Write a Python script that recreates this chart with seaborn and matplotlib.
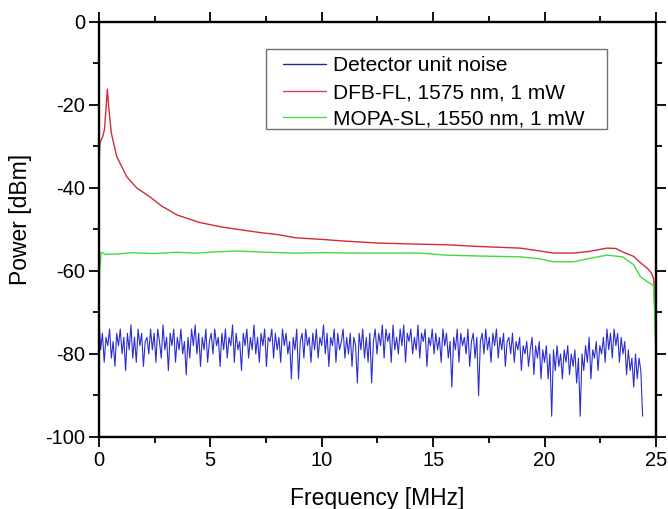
import numpy as np
import pandas as pd
import matplotlib
matplotlib.use("Agg")
import matplotlib.pyplot as plt
import seaborn as sns
from matplotlib.ticker import MultipleLocator
from matplotlib.lines import Line2D
from matplotlib.patches import Rectangle

# ---------------- data ----------------
noise_db = [
    -71, -79, -75, -82, -76, -78, -74, -81, -77, -83,
    -75, -78, -74, -80, -76, -84, -75, -79, -73, -81,
    -76, -82, -74, -78, -75, -83, -77, -76, -80, -74,
    -79, -75, -82, -74, -77, -81, -73, -79, -76, -84,
    -75, -78, -74, -82, -76, -79, -74, -80, -77, -85,
    -76, -81, -74, -78, -73, -80, -75, -83, -76, -79,
    -74, -82, -77, -75, -80, -74, -78, -76, -83, -75,
    -79, -74, -81, -76, -78, -73, -82, -75, -79, -77,
    -84, -75, -78, -74, -81, -76, -79, -73, -80, -76,
    -82, -75, -78, -74, -83, -76, -77, -74, -81, -75,
    -79, -76, -82, -74, -78, -75, -80, -77, -86, -76,
    -79, -74, -86, -77, -75, -81, -74, -78, -76, -82,
    -75, -79, -74, -81, -76, -78, -73, -80, -75, -83,
    -76, -78, -74, -82, -75, -79, -77, -74, -81, -76,
    -80, -75, -83, -76, -78, -87, -75, -79, -74, -81,
    -76, -82, -75, -87, -77, -74, -80, -75, -78, -73,
    -81, -74, -77, -75, -82, -73, -79, -76, -80, -74,
    -78, -73, -82, -75, -77, -74, -80, -76, -79, -73,
    -81, -75, -77, -74, -83, -76, -78, -74, -80, -75,
    -79, -76, -82, -74, -78, -75, -81, -77, -88, -76,
    -79, -74, -82, -75, -78, -76, -80, -74, -83, -77,
    -75, -81, -76, -90, -77, -75, -80, -74, -79, -76,
    -82, -75, -78, -74, -81, -76, -79, -75, -83, -77,
    -76, -80, -75, -82, -77, -79, -76, -84, -78, -80,
    -77, -83, -79, -76, -85, -78, -81, -77, -86, -79,
    -82, -78, -86, -80, -95, -79, -84, -78, -83, -80,
    -86, -79, -82, -78, -85, -80, -83, -79, -87, -81,
    -95, -80, -84, -78, -82, -76, -86, -79, -81, -77,
    -84, -78, -80, -76, -82, -74, -79, -75, -81, -74,
    -78, -75, -82, -76, -80, -77, -85, -79, -84, -81,
    -88, -80, -86, -81, -84, -95,
]
noise_freq_end = 24.4

dfb_freq = [0, 0.05, 0.15, 0.25, 0.32, 0.38, 0.45, 0.56, 0.8, 1.25, 1.7, 2.3,
            2.8, 3.5, 4.5, 5.5, 6.5, 7.3, 8.1, 8.8, 10, 11, 12.6, 14, 15.6, 17,
            18.9, 19.8, 20.4, 21.3, 22, 22.8, 23.2, 23.5, 24.0, 24.3, 24.6,
            24.8, 24.9, 24.95, 25.0]
dfb_db = [-35, -29, -28, -26, -21, -16.2, -21, -26.8, -32.4, -37.3, -40, -42.2,
          -44.3, -46.5, -48.3, -49.4, -50.2, -50.8, -51.3, -52, -52.4, -52.8,
          -53.3, -53.5, -53.7, -54.1, -54.5, -55.2, -55.7, -55.7, -55.3, -54.5,
          -54.6, -55.4, -56.5, -58, -59.3, -60.5, -62, -70, -80]

mopa_freq = [0, 0.04, 0.1, 0.3, 0.85, 1.5, 2.5, 3.5, 4.3, 5.3, 6.2, 7.5, 8.8,
             10, 11.5, 12.6, 14.4, 15.6, 17, 18.9, 19.8, 20.4, 21.3, 22, 22.8,
             23.5, 24.0, 24.3, 24.7, 24.9, 24.95, 25.0]
mopa_db = [-68, -60, -55.5, -56, -55.9, -55.6, -55.8, -55.5, -55.7, -55.4,
           -55.2, -55.5, -55.7, -55.6, -55.7, -55.7, -55.7, -56.2, -56.4, -56.6,
           -57.1, -57.8, -57.8, -57, -56.2, -56.6, -58.5, -61.4, -62.9, -63.5,
           -72, -80]

labels = ["Detector unit noise", "DFB-FL, 1575 nm, 1 mW", "MOPA-SL, 1550 nm, 1 mW"]
colors = ["#2c2cd0", "#d42a3a", "#3ddc3d"]
legend_colors = ["#1f2a8a", "#d0405a", "#44dd55"]

# ---------------- plot ----------------
sns.set_theme(style="white")
plt.rcParams["font.family"] = ["Liberation Sans", "DejaVu Sans"]
plt.rcParams["axes.unicode_minus"] = False
plt.rcParams["text.color"] = "black"
plt.rcParams["axes.labelcolor"] = "black"
plt.rcParams["xtick.color"] = "black"
plt.rcParams["ytick.color"] = "black"

fig = plt.figure(figsize=(6.68, 5.09), dpi=100)
ax = fig.add_axes([0.148, 0.1415, 0.834, 0.8155])

noise_freq = np.linspace(0, noise_freq_end, len(noise_db))
sns.lineplot(x=noise_freq, y=noise_db, ax=ax, color=colors[0], lw=0.8,
             sort=False, estimator=None)
sns.lineplot(x=dfb_freq, y=dfb_db, ax=ax, color=colors[1], lw=1.0,
             sort=False, estimator=None)
sns.lineplot(x=mopa_freq, y=mopa_db, ax=ax, color=colors[2], lw=1.0,
             sort=False, estimator=None)

ax.set_xlim(0, 25)
ax.set_ylim(-100, 0)
ax.xaxis.set_major_locator(MultipleLocator(5))
ax.xaxis.set_minor_locator(MultipleLocator(2.5))
ax.yaxis.set_major_locator(MultipleLocator(20))
ax.yaxis.set_minor_locator(MultipleLocator(10))
ax.tick_params(which="both", direction="out", top=True, right=True,
               bottom=True, left=True, labelsize=14.5, color="black",
               labelcolor="black", width=1.3)
ax.tick_params(which="major", length=7, pad=3)
ax.tick_params(which="minor", length=4.5)
for sp in ax.spines.values():
    sp.set_color("black")
    sp.set_linewidth(1.7)

ax.set_xlabel("Frequency [MHz]", fontsize=16.5, labelpad=12, color="black")
ax.set_ylabel("Power [dBm]", fontsize=16.5, color="black")
ax.yaxis.set_label_coords(-0.12, 0.523)

# legend frame (drawn separately so horizontal padding can exceed vertical)
ax.add_patch(Rectangle((0.300, 0.742), 0.612, 0.193, transform=ax.transAxes,
                       facecolor="white", edgecolor="#707070", lw=1.0, zorder=4))
handles = [Line2D([], [], color=c, lw=1.0) for c in legend_colors]
leg = ax.legend(handles, labels, loc="upper left", bbox_to_anchor=(0.330, 0.917),
                fontsize=15, frameon=False, handlelength=2.1, handletextpad=0.3,
                labelspacing=0.37, borderpad=0, borderaxespad=0)
leg.set_zorder(5)
for t in leg.get_texts():
    t.set_color("black")

fig.savefig("out.png", dpi=100)
